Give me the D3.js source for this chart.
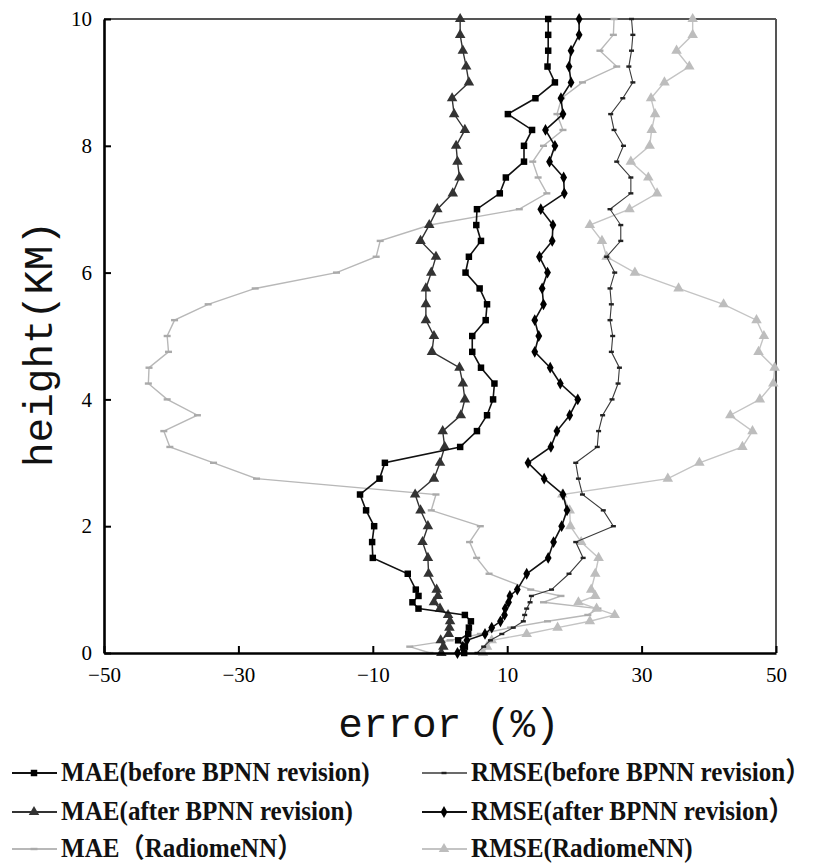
<!DOCTYPE html>
<html><head><meta charset="utf-8">
<script src="https://cdn.jsdelivr.net/npm/d3@7"></script>
<style>body{margin:0;background:#fff}svg{display:block}</style>
</head><body><svg id="c" width="813" height="866"></svg>
<script>
const heights = [10,9.75,9.5,9.25,9.0,8.75,8.5,8.25,8.0,7.75,7.5,7.25,7.0,6.75,6.5,6.25,6.0,5.75,5.5,5.25,5.0,4.75,4.5,4.25,4.0,3.75,3.5,3.25,3.0,2.75,2.5,2.25,2.0,1.75,1.5,1.25,1.0,0.9,0.8,0.7,0.6,0.5,0.4,0.3,0.2,0.1,0];
const maeBefore = [16.1,16.1,16.1,16.0,17.1,14.2,10.1,13.7,12.5,12.5,9.8,8.9,5.5,5.4,6.1,4.3,3.8,5.9,7.0,6.8,4.8,4.8,6.1,8.1,7.9,7.0,5.5,3.0,-8.2,-9.0,-11.9,-11.0,-9.8,-10.1,-10.0,-4.8,-3.6,-3.2,-4.1,-3.2,3.7,4.6,4.3,4.2,2.7,3.7,3.6];
const maeAfter = [3.0,3.0,3.4,3.9,4.3,1.8,2.1,3.7,2.4,2.6,2.9,1.9,-0.4,-1.6,-2.9,-0.6,-1.3,-2.1,-2.1,-2.1,-0.9,-1.2,2.9,3.4,3.7,3.1,0.4,0.7,0.0,-0.9,-3.7,-2.9,-1.8,-2.6,-1.8,-1.7,-0.5,-0.3,-0.9,0.0,1.2,1.5,1.4,1.3,0.1,0.5,0.2];
const rmseBefore = [28.5,28.7,28.5,28.1,28.7,27.2,25.4,25.9,27.3,26.3,28.4,28.4,25.3,26.9,26.9,24.8,26.0,25.3,25.5,25.3,25.7,25.5,26.7,26.5,25.6,24.2,23.6,23.4,20.2,20.6,21.2,24.3,25.8,20.2,21.3,19.2,16.6,13.6,13.4,12.9,12.6,12.4,10.9,9.2,7.5,6.5,5.5];
const rmseAfter = [20.7,20.7,19.5,19.2,19.5,18.0,18.3,15.7,17.1,16.3,18.4,18.5,15.0,16.8,16.7,14.8,16.0,15.2,15.4,14.1,14.7,14.1,16.4,17.9,20.5,19.3,17.4,16.5,13.1,15.5,18.3,18.9,18.1,16.9,16.1,12.9,11.5,10.4,10.2,9.7,9.6,9.0,7.7,6.7,4.0,3.4,2.6];
const maeRadiome = [25.9,25.8,23.8,26.3,21.2,18.1,17.4,18.3,15.4,13.8,14.6,15.9,11.8,-1.5,-8.9,-9.5,-15.4,-27.5,-34.5,-39.5,-40.6,-40.4,-43.3,-43.4,-40.6,-36.1,-41.1,-40.2,-33.7,-27.3,-0.6,-1.3,6.0,4.4,5.45,7.3,13.5,18.0,15.4,23.5,22.0,16.0,10.5,6.0,1.5,-4.5,-1.5];
const rmseRadiome = [37.6,37.6,35.2,37.1,33.4,31.4,32.0,31.5,31.2,28.4,31.0,32.3,28.2,22.3,24.1,24.8,29.0,35.5,42.2,47.1,48.2,47.4,49.8,49.6,47.6,43.2,46.5,45.0,38.6,33.9,18.2,19.3,19.4,21.0,23.6,23.1,22.5,23.1,20.6,23.3,26.0,22.3,17.5,12.9,7.7,7.0,6.4];
const xTicks = [-50,-30,-10,10,30,50];
const yTicks = [0,2,4,6,8,10];
const seriesNames = ["MAE(before BPNN revision)","RMSE(before BPNN revision\uFF09","MAE(after BPNN revision)","RMSE(after BPNN revision\uFF09","MAE\uFF08RadiomeNN\uFF09","RMSE(RadiomeNN)"];

const svg = d3.select("#c");
const L=104, T=19, W=672, H=634;
const x = d3.scaleLinear().domain([-50,50]).range([L,L+W]);
const y = d3.scaleLinear().domain([0,10]).range([T+H,T]);

const styles = [
  {vals:maeBefore, stroke:"#111", sw:1.6, marker:"square", fill:"#000", size:42},
  {vals:rmseBefore, stroke:"#3a3a3a", sw:1.1, marker:"dash", fill:"#222", size:0},
  {vals:maeAfter, stroke:"#333", sw:1.4, marker:"triangle", fill:"#333", size:48},
  {vals:rmseAfter, stroke:"#111", sw:1.6, marker:"diamond", fill:"#000", size:40},
  {vals:maeRadiome, stroke:"#b8b8b8", sw:1.4, marker:"dashL", fill:"#aaa", size:0},
  {vals:rmseRadiome, stroke:"#c4c4c4", sw:1.4, marker:"triangle", fill:"#bdbdbd", size:48}
];

svg.append("line").attr("x1",L).attr("x2",L+W).attr("y1",T).attr("y2",T).attr("stroke","#555").attr("stroke-width",2);
svg.append("line").attr("x1",L+W).attr("x2",L+W).attr("y1",T).attr("y2",T+H).attr("stroke","#555").attr("stroke-width",2);

const plot = svg.append("g");
function drawMarker(g, s, px, py){
  if(s.marker==="dash"){ g.append("rect").attr("x",px-2.5).attr("y",py-1.2).attr("width",5).attr("height",2.4).attr("fill",s.fill); return; }
  if(s.marker==="dashL"){ g.append("rect").attr("x",px-3.5).attr("y",py-1.2).attr("width",7).attr("height",2.4).attr("fill",s.fill); return; }
  const type = s.marker==="square"?d3.symbolSquare:s.marker==="triangle"?d3.symbolTriangle:d3.symbolDiamond;
  g.append("path").attr("d",d3.symbol().type(type).size(s.size)()).attr("transform",`translate(${px},${py})`).attr("fill",s.fill);
}
const drawOrder=[4,5,1,2,0,3];
drawOrder.forEach(i=>{
  const s=styles[i];
  const pts = heights.map((h,k)=>[s.vals[k],h]);
  const line = d3.line().x(d=>x(d[0])).y(d=>y(d[1]));
  plot.append("path").attr("d",line(pts)).attr("fill","none").attr("stroke",s.stroke).attr("stroke-width",s.sw);
  const mg = plot.append("g");
  pts.forEach(d=>drawMarker(mg,s,x(d[0]),y(d[1])));
});

const fmt = d=>d<0?"\u2212"+Math.abs(d):String(d);
const xAxis = svg.append("g").attr("transform",`translate(0,${T+H})`)
  .call(d3.axisBottom(x).tickValues(xTicks).tickSizeInner(-7).tickSizeOuter(0).tickPadding(14).tickFormat(fmt));
const yAxis = svg.append("g").attr("transform",`translate(${L},0)`)
  .call(d3.axisLeft(y).tickValues(yTicks).tickSizeInner(-7).tickSizeOuter(0).tickPadding(12).tickFormat(d=>d));
[xAxis,yAxis].forEach(a=>{
  a.select(".domain").attr("stroke","#000").attr("stroke-width",2.6);
  a.selectAll(".tick line").attr("stroke","#000").attr("stroke-width",2);
  a.selectAll("text").attr("font-family","'Liberation Serif', serif").attr("font-size",21).attr("fill","#000");
});

svg.append("text").attr("x",449).attr("y",737).attr("text-anchor","middle")
  .attr("font-family","'Liberation Mono', monospace").attr("font-size",41).attr("fill","#111").text("error (%)");
svg.append("text").attr("transform","translate(52,344) rotate(-90)").attr("text-anchor","middle")
  .attr("font-family","'Liberation Mono', monospace").attr("font-size",41).attr("fill","#111").text("height(KM)");

const legX=[12,422], legY=[773,812,849];
const order=[[0,1],[2,3],[4,5]];
order.forEach((row,r)=>row.forEach((si,c)=>{
  const s=styles[si]; const g=svg.append("g");
  const x0=legX[c], yy=legY[r];
  g.append("line").attr("x1",x0).attr("x2",x0+45).attr("y1",yy).attr("y2",yy).attr("stroke",s.stroke).attr("stroke-width",s.sw+0.4);
  drawMarker(g,s,x0+22,yy);
  g.append("text").attr("transform",`translate(${x0+49},${yy+8}) scale(0.93,1)`).attr("font-family","'Liberation Serif','Noto Sans CJK SC',serif")
    .attr("font-weight","bold").attr("font-size",27).attr("fill","#111").text(seriesNames[si]);
}));
</script></body></html>
